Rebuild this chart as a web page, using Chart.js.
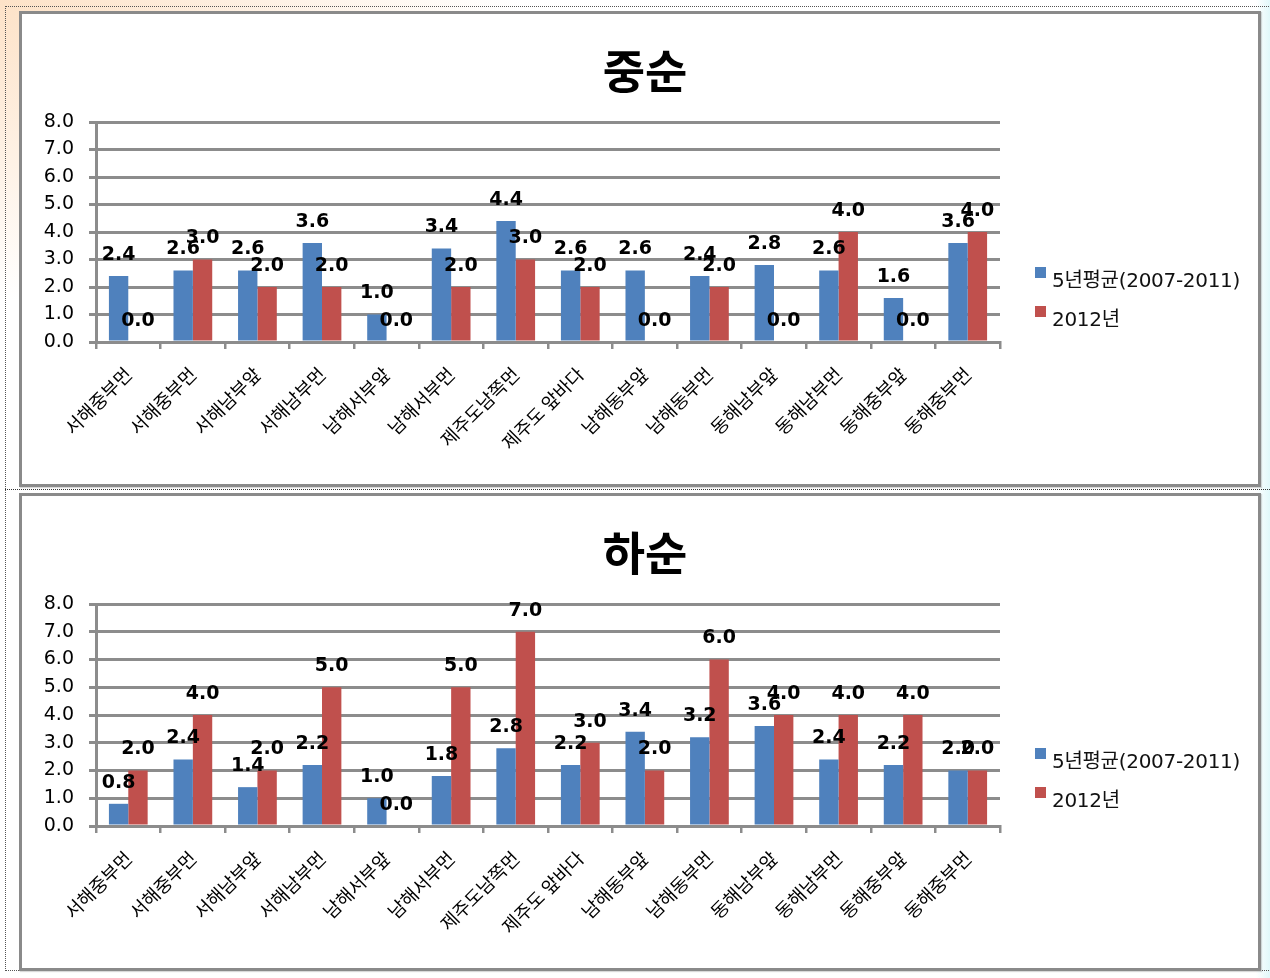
<!DOCTYPE html>
<html lang="ko">
<head>
<meta charset="utf-8">
<title>중순 · 하순</title>
<script src="https://cdn.jsdelivr.net/npm/chart.js@4.4.1/dist/chart.umd.min.js"></script>
<style>
  html, body { margin: 0; padding: 0; }
  body {
    width: 1270px; height: 978px; position: relative; overflow: hidden;
    background:
      radial-gradient(ellipse 520px 300px at 0px 0px, rgba(252, 214, 176, 0.7), rgba(252, 214, 176, 0) 100%),
      linear-gradient(to left, rgba(225, 248, 250, 1) 0px, rgba(225, 248, 250, 0) 14px),
      #ffffff;
    font-family: "DejaVu Sans", "Noto Sans CJK KR", sans-serif;
  }
  .dots-frame {
    position: absolute; left: 5px; top: 6px; width: 1270px; height: 965px;
    border-left: 1px dotted #555; border-top: 1px dotted #555; border-bottom: 1px dotted #555;
    box-sizing: border-box;
  }
  .dots-mid {
    position: absolute; left: 5px; top: 489px; width: 1265px; height: 0;
    border-top: 1px dotted #333;
  }
  .panel {
    position: absolute; left: 19px; width: 1242px;
    border: 3px solid #8a8a8a; box-sizing: border-box; background: #fff;
    box-shadow: 1px 1px 1px rgba(0,0,0,0.15);
  }
  .panel canvas { position: absolute; left: 0; top: 0; }
  .legend { position: absolute; left: 1013px; font-size: 20px; color: #111; letter-spacing: -0.3px; }
  .legend .row { position: absolute; white-space: nowrap; display: flex; align-items: center; height: 24px; }
  .legend .sw { width: 11px; height: 11px; margin-right: 6px; position: relative; top: -6px; }
</style>
</head>
<body>
<div class="dots-frame"></div>
<div class="dots-mid"></div>

<div class="panel" id="panelTop" style="top:11px;height:476px;">
  <canvas id="chartMid" width="1236" height="470"></canvas>
  <div class="legend" id="legendMid"></div>
</div>
<div class="panel" id="panelBottom" style="top:493px;height:478px;">
  <canvas id="chartLate" width="1236" height="472"></canvas>
  <div class="legend" id="legendLate"></div>
</div>

<script>
// Sea-area categories (x axis)
const categoriesMid = ['서해중부먼', '서해중부먼', '서해남부앞', '서해남부먼', '남해서부앞', '남해서부먼', '제주도남쪽먼', '제주도 앞바다', '남해동부앞', '남해동부먼', '동해남부앞', '동해남부먼', '동해중부앞', '동해중부먼'];
const categoriesLate = ['서해중부먼', '서해중부먼', '서해남부앞', '서해남부먼', '남해서부앞', '남해서부먼', '제주도남쪽먼', '제주도 앞바다', '남해동부앞', '남해동부먼', '동해남부앞', '동해남부먼', '동해중부앞', '동해중부먼'];

// Series names and colours
const seriesNames = ['5년평균(2007-2011)', '2012년'];
const seriesColors = ['#4F81BD', '#C0504D'];

// 중순 (mid-month)
const midAvg = [2.4, 2.6, 2.6, 3.6, 1.0, 3.4, 4.4, 2.6, 2.6, 2.4, 2.8, 2.6, 1.6, 3.6];
const mid2012 = [0.0, 3.0, 2.0, 2.0, 0.0, 2.0, 3.0, 2.0, 0.0, 2.0, 0.0, 4.0, 0.0, 4.0];

// 하순 (late-month)
const lateAvg = [0.8, 2.4, 1.4, 2.2, 1.0, 1.8, 2.8, 2.2, 3.4, 3.2, 3.6, 2.4, 2.2, 2.0];
const late2012 = [2.0, 4.0, 2.0, 5.0, 0.0, 5.0, 7.0, 3.0, 2.0, 6.0, 4.0, 4.0, 4.0, 2.0];

// Y axis tick values
const yTicks = [0, 1, 2, 3, 4, 5, 6, 7, 8];

const FONT = '"DejaVu Sans", "Noto Sans CJK KR", sans-serif';
const KFONT = '"Noto Sans CJK KR", "DejaVu Sans", sans-serif';
const GRID = '#8c8c8c';

// Value labels above each bar
const valueLabels = {
  id: 'valueLabels',
  afterDatasetsDraw(chart) {
    const ctx = chart.ctx;
    ctx.save();
    ctx.font = 'bold 19px ' + FONT;
    ctx.fillStyle = '#000';
    ctx.textAlign = 'center';
    ctx.textBaseline = 'middle';
    chart.data.datasets.forEach((ds, di) => {
      const meta = chart.getDatasetMeta(di);
      meta.data.forEach((bar, i) => {
        ctx.fillText(Number(ds.data[i]).toFixed(1), bar.x, bar.y - 21);
      });
    });
    ctx.restore();
  }
};

// Panel heading, centred over the whole panel
const panelTitle = {
  id: 'panelTitle',
  afterDraw(chart, args, opts) {
    const ctx = chart.ctx;
    ctx.save();
    ctx.font = 'bold 46px ' + KFONT;
    ctx.fillStyle = '#000';
    ctx.textAlign = 'center';
    ctx.textBaseline = 'middle';
    ctx.fillText(opts.text, chart.width / 2 + 5, 57);
    ctx.restore();
  }
};

function buildLegend(id) {
  const box = document.getElementById(id);
  seriesNames.forEach((name, i) => {
    const row = document.createElement('div');
    row.className = 'row';
    row.style.top = (i * 39) + 'px';
    const sw = document.createElement('span');
    sw.className = 'sw';
    sw.style.background = seriesColors[i];
    const tx = document.createElement('span');
    tx.textContent = name;
    row.appendChild(sw);
    row.appendChild(tx);
    box.appendChild(row);
  });
}

function makeChart(canvasId, title, labels, a, b) {
  return new Chart(document.getElementById(canvasId), {
    type: 'bar',
    data: {
      labels: labels,
      datasets: [
        { label: seriesNames[0], data: a, backgroundColor: seriesColors[0], categoryPercentage: 0.6, barPercentage: 1.0 },
        { label: seriesNames[1], data: b, backgroundColor: seriesColors[1], categoryPercentage: 0.6, barPercentage: 1.0 }
      ]
    },
    options: {
      responsive: false,
      animation: false,
      layout: { padding: { left: 0, right: 258, top: 108, bottom: 0 } },
      plugins: {
        legend: { display: false },
        tooltip: { enabled: false },
        title: { display: false },
        panelTitle: { text: title }
      },
      scales: {
        x: {
          offset: true,
          grid: { display: true, drawOnChartArea: false, drawTicks: true, tickLength: 7, color: GRID, lineWidth: 2.5, offset: true },
          border: { display: true, color: GRID, width: 3 },
          ticks: {
            autoSkip: false, minRotation: 45, maxRotation: 45, padding: 14,
            color: '#000', font: { family: KFONT, size: 18.5 }
          },
          afterFit(scale) { scale.height = 142; }
        },
        y: {
          min: 0, max: 8,
          afterBuildTicks(scale) { scale.ticks = yTicks.map(v => ({ value: v })); },
          grid: { color: GRID, lineWidth: 3, tickLength: 7, drawTicks: true },
          border: { display: true, color: GRID, width: 3 },
          ticks: {
            padding: 15, color: '#000', font: { family: FONT, size: 19 },
            callback: v => Number(v).toFixed(1)
          },
          afterFit(scale) { scale.width = 74; }
        }
      }
    },
    plugins: [valueLabels, panelTitle]
  });
}

makeChart('chartMid', '중순', categoriesMid, midAvg, mid2012);
makeChart('chartLate', '하순', categoriesLate, lateAvg, late2012);

buildLegend('legendMid');
buildLegend('legendLate');
document.getElementById('legendMid').style.top = '252px';
document.getElementById('legendLate').style.top = '251px';
</script>
</body>
</html>
